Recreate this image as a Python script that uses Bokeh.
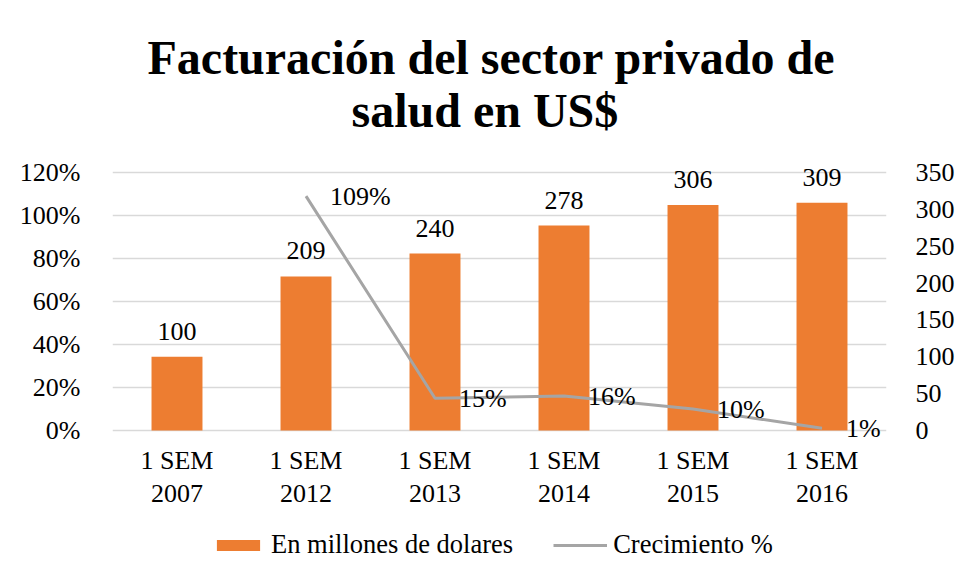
from bokeh.plotting import figure
from bokeh.layouts import column
from bokeh.models import (ColumnDataSource, Range1d, LinearAxis, NumeralTickFormatter,
                          FixedTicker, LabelSet, Legend, LegendItem, Title, FactorRange)
from bokeh.embed import file_html
from bokeh.resources import INLINE

# ---- data ----
categories = ["1 SEM\n2007", "1 SEM\n2012", "1 SEM\n2013", "1 SEM\n2014", "1 SEM\n2015", "1 SEM\n2016"]
facturacion = [100, 209, 240, 278, 306, 309]
crec_categories = ["1 SEM\n2012", "1 SEM\n2013", "1 SEM\n2014", "1 SEM\n2015", "1 SEM\n2016"]
crecimiento = [1.09, 0.15, 0.16, 0.10, 0.01]
left_ticks = [0, 0.2, 0.4, 0.6, 0.8, 1.0, 1.2]
right_ticks = [0, 50, 100, 150, 200, 250, 300, 350]
series_names = ["En millones de dolares", "Crecimiento %"]
title_lines = ["Facturación del sector privado de", "salud en US$"]

FONT = "Liberation Serif"
ORANGE = "#ED7D31"
GRAY = "#A5A5A5"
FS = "26px"

# ---- layout (pixels) ----
W, H_MAIN, H_LEG = 957, 520, 56
FRAME_L, FRAME_R = 112, 889
FRAME_T, FRAME_B = 140, 441          # frame extended so value labels are not clipped
AXIS_TOP_Y, AXIS_ZERO_Y = 172, 430   # where the top tick and zero sit
LMAX, RMAX = 1.2, 350
ls = LMAX / (AXIS_ZERO_Y - AXIS_TOP_Y)
rs = RMAX / (AXIS_ZERO_Y - AXIS_TOP_Y)
y_left = Range1d(-(FRAME_B - AXIS_ZERO_Y) * ls, LMAX + (AXIS_TOP_Y - FRAME_T) * ls)
y_right = Range1d(-(FRAME_B - AXIS_ZERO_Y) * rs, RMAX + (AXIS_TOP_Y - FRAME_T) * rs)

bar_src = ColumnDataSource(dict(cat=categories, val=facturacion,
                                txt=[str(v) for v in facturacion]))
line_src = ColumnDataSource(dict(cat=crec_categories, val=crecimiento,
                                 txt=["%d%%" % round(v * 100) for v in crecimiento]))

p = figure(x_range=FactorRange(*categories), y_range=y_left,
           width=W, height=H_MAIN, output_backend="svg", toolbar_location=None,
           title=None, min_border_left=FRAME_L, min_border_right=W - FRAME_R,
           min_border_top=FRAME_T, min_border_bottom=H_MAIN - FRAME_B)
p.extra_y_ranges = {"usd": y_right}
p.outline_line_color = None
p.background_fill_color = "white"
p.border_fill_color = "white"

bars = p.vbar(x="cat", top="val", width=0.395, source=bar_src, y_range_name="usd",
              fill_color=ORANGE, line_color=None)
line = p.line(x="cat", y="val", source=line_src, line_color=GRAY, line_width=3)

# grid
p.xgrid.grid_line_color = None
p.ygrid.ticker = FixedTicker(ticks=left_ticks)
p.ygrid.grid_line_color = "#D9D9D9"
p.ygrid.grid_line_width = 1.5

def style_axis(ax):
    ax.axis_line_color = None
    ax.major_tick_line_color = None
    ax.minor_tick_line_color = None
    ax.major_label_text_font = FONT
    ax.major_label_text_font_size = FS
    ax.major_label_text_color = "black"

yl = p.yaxis[0]
yl.ticker = FixedTicker(ticks=left_ticks)
yl.formatter = NumeralTickFormatter(format="0%")
style_axis(yl)
yl.major_label_standoff = 26

yr = LinearAxis(y_range_name="usd", ticker=FixedTicker(ticks=right_ticks))
style_axis(yr)
yr.major_label_standoff = 23
p.add_layout(yr, "right")

xa = p.xaxis[0]
style_axis(xa)
xa.major_label_text_line_height = 1.15
xa.major_label_standoff = -2

# value labels
p.add_layout(LabelSet(x="cat", y="val", text="txt", source=bar_src, y_range_name="usd",
                      y_offset=17, text_align="center", text_baseline="alphabetic",
                      text_font=FONT, text_font_size=FS, text_color="black"))
p.add_layout(LabelSet(x="cat", y="val", text="txt", source=line_src,
                      x_offset=24, text_align="left", text_baseline="middle",
                      text_font=FONT, text_font_size=FS, text_color="black"))

# title: two centred lines (inner line added first)
p.add_layout(Title(text=title_lines[1], align="left", offset=239, standoff=8,
                   text_font=FONT, text_font_size="48px", text_font_style="bold",
                   text_color="black"), "above")
p.add_layout(Title(text=title_lines[0], align="left", offset=35, standoff=-13,
                   text_font=FONT, text_font_size="48px", text_font_style="bold",
                   text_color="black"), "above")

# ---- legend strip (separate figure so it is not squeezed or clipped) ----
# proxies reuse the real sources but sit outside this strip's visible range
pl = figure(width=W, height=H_LEG, output_backend="svg", toolbar_location=None,
            x_range=FactorRange(*categories), y_range=Range1d(1000, 1001),
            min_border=0, x_axis_type=None, y_axis_type=None, title=None)
pl.outline_line_color = None
pl.grid.visible = False
lb = pl.vbar(x="cat", top="val", width=0.4, source=bar_src, fill_color=ORANGE, line_color=None)
ll = pl.line(x="cat", y="val", source=line_src, line_color=GRAY, line_width=3)
legend = Legend(items=[LegendItem(label=series_names[0], renderers=[lb]),
                       LegendItem(label=series_names[1], renderers=[ll])],
                orientation="horizontal", location=(99, 16),
                border_line_color=None, background_fill_alpha=0,
                glyph_width=54, glyph_height=14, label_standoff=6, spacing=40,
                padding=0, margin=0,
                label_text_font=FONT, label_text_font_size="26.5px", label_text_color="black")
pl.add_layout(legend, "center")

open("out.html", "w").write(file_html(column(p, pl, spacing=0), INLINE))
